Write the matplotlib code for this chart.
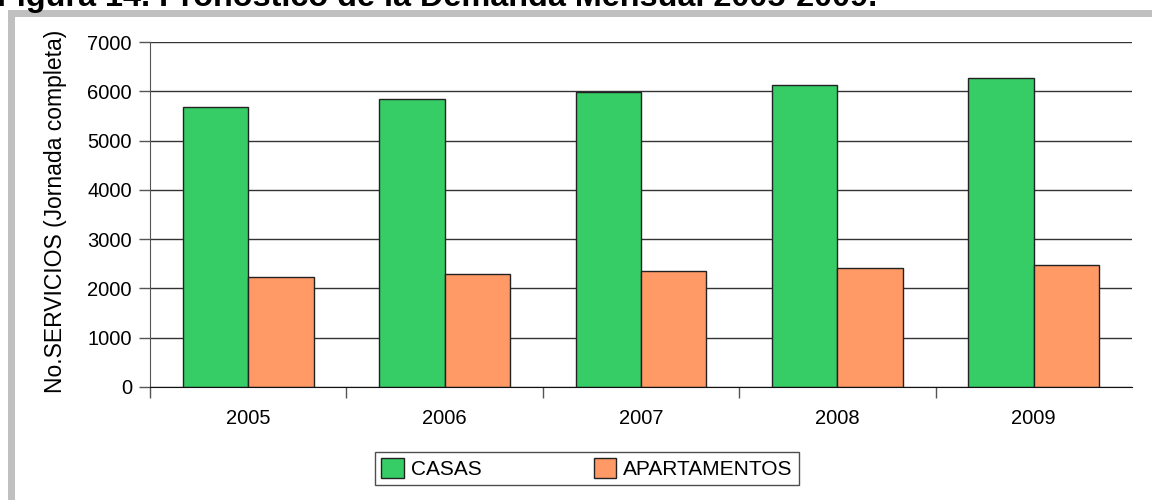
import numpy as np
import matplotlib
matplotlib.use("Agg")
import matplotlib.pyplot as plt
from matplotlib.patches import Rectangle, Patch

plt.rcParams['font.family'] = ['Liberation Sans', 'DejaVu Sans']

# Data
years = ['2005', '2006', '2007', '2008', '2009']
casas = [5687, 5835, 5979, 6121, 6275]
apartamentos = [2226, 2293, 2347, 2408, 2469]

title = 'Figura 14. Pronóstico de la Demanda Mensual 2005-2009.'
ylabel = 'No.SERVICIOS (Jornada completa)'
labels = ['CASAS', 'APARTAMENTOS']
green = '#36CC66'
orange = '#FF9966'

W, H = 1152, 500
fig = plt.figure(figsize=(W / 100, H / 100), dpi=100)
fig.patch.set_facecolor('white')

# grey frame (only top-left corner visible)
fig.add_artist(Rectangle((8 / W, -0.1), 7 / W, 1.1 - 10 / H,
                         transform=fig.transFigure, facecolor='#C0C0C0',
                         edgecolor='none'))
fig.add_artist(Rectangle((8 / W, 1 - 17 / H), 1.0, 7 / H,
                         transform=fig.transFigure, facecolor='#C0C0C0',
                         edgecolor='none'))

# title, cut off at the top edge as in the source
fig.text(-3 / W, 1 - 6 / H, title, fontsize=23.3, fontweight='bold',
         ha='left', va='baseline')

ax = fig.add_axes([150 / W, 1 - 387 / H, 982 / W, 345 / H])

x = np.arange(len(years))
bw = 1 / 3
ax.bar(x - bw / 2, casas, bw, color=green, edgecolor='#222222',
       linewidth=1.0, label=labels[0], zorder=3)
ax.bar(x + bw / 2, apartamentos, bw, color=orange, edgecolor='#222222',
       linewidth=1.0, label=labels[1], zorder=3)

ax.set_xlim(-0.5, len(years) - 0.5)
ax.set_ylim(0, 7000)
ax.set_yticks(np.arange(0, 7001, 1000))
ax.yaxis.grid(True, color='#333333', linewidth=1.0, zorder=1)

# category boundary ticks, labels at centres
ax.set_xticks(np.arange(-0.5, len(years) - 1, 1.0))
ax.set_xticklabels([])
ax.set_xticks(x, minor=True)
ax.set_xticklabels(years, minor=True)
ax.tick_params(axis='x', which='major', length=8, width=1, color='#555555',
               direction='out')
ax.tick_params(axis='x', which='minor', length=0, pad=16, labelsize=14.5)
ax.tick_params(axis='y', length=8, width=1, color='#555555', pad=5,
               labelsize=14.5)

for s in ['top', 'right']:
    ax.spines[s].set_visible(False)
ax.spines['left'].set_color('#555555')
ax.spines['bottom'].set_color('#111111')
ax.spines['left'].set_zorder(4)
ax.spines['bottom'].set_zorder(4)

ax.set_ylabel(ylabel, fontsize=16.5)
ax.yaxis.label.set_va('center')
ax.yaxis.set_label_coords((56 - 150) / 982, (387 - 211) / 345)

leg = fig.legend(handles=[Patch(facecolor=green, edgecolor='#222222'),
                          Patch(facecolor=orange, edgecolor='#222222')],
                 labels=labels, ncol=2, loc='center',
                 bbox_to_anchor=(587 / W, 1 - 468.5 / H), fontsize=15,
                 frameon=True, fancybox=False, handlelength=1.06,
                 handleheight=1.06, handletextpad=0.34, columnspacing=5.4,
                 borderpad=0.3, borderaxespad=0)
leg.get_frame().set_edgecolor('#222222')
leg.get_frame().set_linewidth(1.0)

fig.savefig('out.png', dpi=100)
